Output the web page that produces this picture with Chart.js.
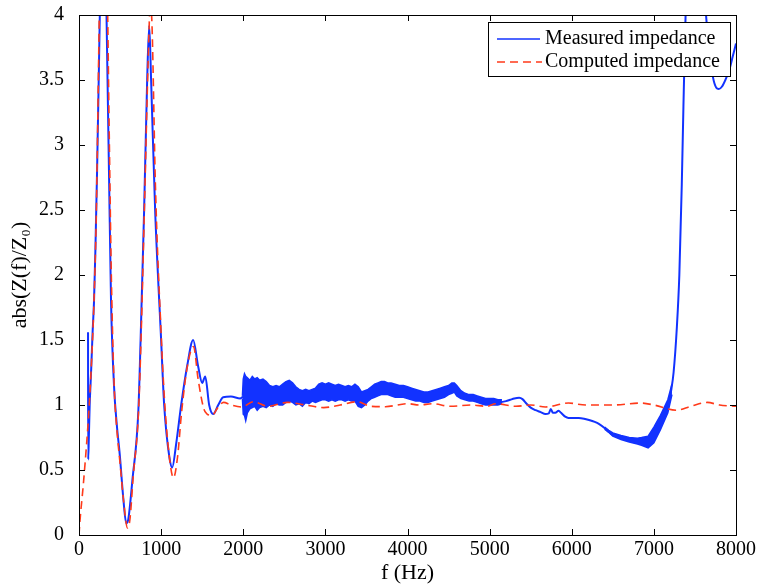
<!DOCTYPE html>
<html>
<head>
<meta charset="utf-8">
<script src="https://cdn.jsdelivr.net/npm/chart.js@4/dist/chart.umd.min.js"></script>
<style>
  html, body { margin: 0; padding: 0; background: #fff; }
  #wrap { width: 761px; height: 587px; }
</style>
</head>
<body>
<div id="wrap"><canvas id="impedanceChart" width="761" height="587"></canvas></div>
<script>
// f (Hz) ticks and abs(Z/Z0) ticks
const xTicks = [0, 1000, 2000, 3000, 4000, 5000, 6000, 7000, 8000];
const yTicks = [0, 0.5, 1, 1.5, 2, 2.5, 3, 3.5, 4];

// measured impedance (centre trace)
const measuredFreq = [110, 112, 120, 130, 140, 150, 165, 183, 200, 220, 240, 256, 280, 300, 320, 340, 365, 390, 427, 460, 496, 541, 575, 600, 650, 723, 750, 793, 830, 855, 878, 927, 1000, 1037, 1100, 1135, 1183, 1244, 1317, 1390, 1450, 1500, 1537, 1585, 1634, 1695, 1756, 1850, 1963, 1990,
  2100, 2300, 2500, 2700, 2900, 3100, 3300, 3440, 3600, 3750, 3950, 4200, 4400, 4560, 4700, 4900, 5100,
  5200, 5250, 5300, 5360, 5400, 5450, 5500, 5560, 5620, 5680, 5720, 5745, 5770, 5800, 5840, 5870, 5920, 5960, 6000, 6085, 6150, 6210, 6280, 6330, 6415, 6475, 6550, 6635, 6720, 6800, 6860, 6930, 7000, 7085, 7170, 7210, 7240, 7280, 7310, 7340, 7360, 7390, 7430, 7500, 7580, 7630, 7680, 7720, 7760, 7790, 7830, 7870, 7920, 7960, 8000];
const measuredAbs = [1.56, 0.58, 0.75, 1.0, 1.15, 1.3, 1.55, 1.8, 2.2, 2.8, 3.5, 4.1, 5.0, 5.3, 4.6, 3.8, 2.8, 1.8, 1.14, 0.85, 0.62, 0.27, 0.09, 0.12, 0.42, 0.96, 1.5, 2.5, 3.5, 3.92, 3.5, 2.5, 1.5, 1.0, 0.6, 0.52, 0.7, 1.0, 1.3, 1.5, 1.3, 1.17, 1.22, 1.0, 0.93, 1.0, 1.06, 1.065, 1.05, 1.06,
  1.08, 1.07, 1.09, 1.06, 1.07, 1.1, 1.09, 1.05, 1.1, 1.13, 1.1, 1.06, 1.09, 1.13, 1.06, 1.04, 1.02,
  1.03, 1.04, 1.05, 1.055, 1.045, 1.01, 0.98, 0.96, 0.945, 0.93, 0.935, 0.97, 0.94, 0.94, 0.955, 0.94, 0.91, 0.9, 0.9, 0.9, 0.895, 0.885, 0.87, 0.855, 0.815, 0.78, 0.755, 0.74, 0.73, 0.72, 0.715, 0.71, 0.78, 0.87, 0.985, 1.11, 1.25, 1.6, 2.0, 2.7, 3.3, 4.1, 4.8, 5.2, 4.8, 4.05, 3.7, 3.52, 3.44, 3.43, 3.45, 3.5, 3.58, 3.68, 3.78];

// noisy band of the measurement, 2000-5150 Hz (upper / lower edge)
const bandFreq = [1990, 2000, 2015, 2030, 2050, 2080, 2110, 2140, 2170, 2200, 2240, 2280, 2320, 2360, 2400, 2440, 2480, 2520, 2560, 2600, 2640, 2680, 2720, 2760, 2800, 2840, 2880, 2920, 2960, 3000, 3040, 3080, 3120, 3160, 3200, 3240, 3280, 3320, 3360, 3400, 3440, 3480, 3520, 3560, 3600, 3640, 3680, 3720, 3760, 3800, 3850, 3900, 3950, 4000, 4050, 4100, 4150, 4200, 4250, 4300, 4350, 4400, 4450, 4500, 4540, 4570, 4600, 4650, 4700, 4750, 4800, 4850, 4900, 4950, 5000, 5050, 5100, 5150];
const bandUpper = [1.07, 1.2, 1.24, 1.22, 1.21, 1.19, 1.22, 1.2, 1.21, 1.19, 1.2, 1.18, 1.15, 1.14, 1.15, 1.14, 1.16, 1.18, 1.19, 1.17, 1.14, 1.12, 1.11, 1.12, 1.11, 1.12, 1.13, 1.16, 1.17, 1.16, 1.17, 1.16, 1.15, 1.16, 1.15, 1.14, 1.15, 1.14, 1.16, 1.14, 1.1, 1.11, 1.12, 1.14, 1.16, 1.17, 1.18, 1.18, 1.17, 1.17, 1.16, 1.15, 1.15, 1.14, 1.13, 1.12, 1.11, 1.1, 1.1, 1.11, 1.12, 1.13, 1.14, 1.15, 1.17, 1.17, 1.15, 1.11, 1.09, 1.08, 1.08, 1.07, 1.06, 1.05, 1.05, 1.05, 1.04, 1.04];
const bandLower = [1.05, 0.93, 0.92, 0.88, 0.94, 0.97, 0.98, 0.99, 0.96, 0.98, 0.99, 0.98, 1.0, 0.99, 1.01, 1.0, 1.0, 1.02, 1.03, 1.02, 1.0, 1.01, 0.99, 1.02, 1.01, 1.03, 1.02, 1.03, 1.04, 1.04, 1.03, 1.04, 1.03, 1.04, 1.04, 1.03, 1.04, 1.03, 1.03, 0.99, 0.98, 1.0, 1.03, 1.05, 1.06, 1.07, 1.08, 1.08, 1.08, 1.07, 1.06, 1.06, 1.06, 1.05, 1.04, 1.03, 1.03, 1.02, 1.02, 1.03, 1.04, 1.05, 1.06, 1.08, 1.09, 1.1, 1.07, 1.05, 1.04, 1.03, 1.03, 1.02, 1.01, 1.0, 1.0, 1.0, 1.0, 1.01];

// thick part near the minimum, 6400-7220 Hz
const dipFreq = [6400, 6450, 6500, 6600, 6700, 6800, 6850, 6930, 7000, 7080, 7170, 7220];
const dipUpper = [0.83, 0.805, 0.785, 0.765, 0.75, 0.745, 0.75, 0.76, 0.83, 0.92, 1.04, 1.16];
const dipLower = [0.815, 0.79, 0.76, 0.735, 0.715, 0.7, 0.69, 0.67, 0.71, 0.81, 0.94, 1.08];

// computed impedance
const computedFreq = [0, 12, 50, 90, 120, 150, 180, 210, 240, 260, 290, 320, 345, 370, 395, 430, 460, 500, 545, 590, 620, 660, 725, 755, 800, 840, 870, 890, 930, 1000, 1040, 1100, 1150, 1200, 1250, 1320, 1395, 1450, 1520, 1560, 1620, 1690, 1760, 1850, 1980, 2125, 2300, 2540, 2760, 2980, 3180, 3390, 3550, 3730, 4000, 4150, 4300, 4520, 4770, 4970, 5070, 5320, 5500, 5680, 5960, 6170, 6500, 6850, 7000, 7270, 7450, 7650, 7800, 8000];
const computedAbs = [0, 0.11, 0.37, 0.68, 0.95, 1.3, 1.75, 2.45, 3.7, 4.6, 5.5, 5.2, 4.2, 3.0, 1.95, 1.12, 0.82, 0.55, 0.25, 0.055, 0.12, 0.45, 0.95, 1.5, 2.6, 3.6, 4.1, 3.9, 2.7, 1.55, 1.05, 0.6, 0.44, 0.6, 0.95, 1.3, 1.45, 1.2, 0.97, 0.93, 0.92, 0.98, 1.02, 1.0, 0.985, 1.025, 0.99, 1.02, 1.0, 0.98, 1.0, 1.025, 0.99, 0.987, 1.01, 1.0, 1.01, 0.99, 1.0, 0.99, 1.01, 0.99, 1.0, 0.985, 1.015, 1.0, 1.0, 1.015, 1.0, 0.96, 0.99, 1.02, 1.0, 0.99];

const legendLabels = ['Measured impedance', 'Computed impedance'];

const BLUE = '#1232ff';
const RED = '#ff3a1a';
const SERIF = '"Liberation Serif", "Times New Roman", serif';

function pts(xs, ys) {
  return xs.map((x, i) => ({ x: x, y: ys[i] }));
}

// box, inward ticks and the boxed legend
const matlabAxes = {
  id: 'matlabAxes',
  afterDatasetsDraw(chart) {
    const ctx = chart.ctx;
    const a = chart.chartArea;
    const xs = chart.scales.x;
    const ys = chart.scales.y;
    ctx.save();
    ctx.strokeStyle = '#000';
    ctx.lineWidth = 1;
    ctx.beginPath();
    xTicks.forEach(v => {
      const px = Math.round(xs.getPixelForValue(v)) + 0.5;
      ctx.moveTo(px, a.bottom); ctx.lineTo(px, a.bottom - 6);
      ctx.moveTo(px, a.top); ctx.lineTo(px, a.top + 6);
    });
    yTicks.forEach(v => {
      const py = Math.round(ys.getPixelForValue(v)) + 0.5;
      ctx.moveTo(a.left, py); ctx.lineTo(a.left + 6, py);
      ctx.moveTo(a.right, py); ctx.lineTo(a.right - 6, py);
    });
    ctx.stroke();
    ctx.strokeRect(Math.round(a.left) + 0.5, Math.round(a.top) + 0.5, Math.round(a.right - a.left), Math.round(a.bottom - a.top));

    // legend
    const lx = 488.5, ly = 22.5, lw = 242, lh = 54;
    ctx.fillStyle = '#fff';
    ctx.fillRect(lx, ly, lw, lh);
    ctx.strokeRect(lx, ly, lw, lh);
    ctx.lineWidth = 1.5;
    ctx.strokeStyle = BLUE;
    ctx.beginPath(); ctx.moveTo(497, 39); ctx.lineTo(540, 39); ctx.stroke();
    ctx.strokeStyle = RED;
    ctx.setLineDash([8, 5]);
    ctx.beginPath(); ctx.moveTo(497, 62); ctx.lineTo(542, 62); ctx.stroke();
    ctx.setLineDash([]);
    ctx.fillStyle = '#000';
    ctx.font = '20px ' + SERIF;
    ctx.textBaseline = 'middle';
    ctx.textAlign = 'left';
    ctx.fillText(legendLabels[0], 545, 39);
    ctx.fillText(legendLabels[1], 545, 62);
    ctx.restore();
  }
};

function noOverflow(s) {
  s.paddingTop = 0; s.paddingBottom = 0; s.paddingLeft = 0; s.paddingRight = 0;
}

new Chart(document.getElementById('impedanceChart'), {
  type: 'line',
  data: {
    datasets: [
      {
        label: legendLabels[1],
        data: pts(computedFreq, computedAbs),
        borderColor: RED,
        borderWidth: 1.6,
        borderDash: [8, 5],
        pointRadius: 0,
        cubicInterpolationMode: 'monotone',
        fill: false
      },
      {
        label: 'band upper',
        data: pts(bandFreq, bandUpper),
        borderColor: BLUE,
        backgroundColor: BLUE,
        borderWidth: 1.5,
        pointRadius: 0,
        fill: '+1'
      },
      {
        label: 'band lower',
        data: pts(bandFreq, bandLower),
        borderColor: BLUE,
        borderWidth: 1.5,
        pointRadius: 0,
        fill: false
      },
      {
        label: 'dip upper',
        data: pts(dipFreq, dipUpper),
        borderColor: BLUE,
        backgroundColor: BLUE,
        borderWidth: 1.5,
        pointRadius: 0,
        fill: '+1'
      },
      {
        label: 'dip lower',
        data: pts(dipFreq, dipLower),
        borderColor: BLUE,
        borderWidth: 1.5,
        pointRadius: 0,
        fill: false
      },
      {
        label: legendLabels[0],
        data: pts(measuredFreq, measuredAbs),
        borderColor: BLUE,
        borderWidth: 2,
        pointRadius: 0,
        cubicInterpolationMode: 'monotone',
        fill: false
      }
    ]
  },
  options: {
    responsive: false,
    animation: false,
    devicePixelRatio: 1,
    layout: { padding: { top: 15, right: 25, left: 0, bottom: 0 } },
    plugins: {
      legend: { display: false },
      tooltip: { enabled: false }
    },
    scales: {
      x: {
        type: 'linear',
        min: 0,
        max: 8000,
        afterFit: s => { s.height = 52; noOverflow(s); },
        afterBuildTicks: s => { s.ticks = xTicks.map(v => ({ value: v })); },
        grid: { display: false, drawTicks: false },
        border: { display: false },
        ticks: { color: '#000', font: { family: SERIF, size: 20 }, padding: 3, maxRotation: 0, callback: v => String(v) },
        title: { display: true, text: 'f (Hz)', color: '#000', font: { family: SERIF, size: 22 }, padding: { top: 0, bottom: 1 } }
      },
      y: {
        type: 'linear',
        min: 0,
        max: 4,
        afterFit: s => { s.width = 79; noOverflow(s); },
        afterBuildTicks: s => { s.ticks = yTicks.map(v => ({ value: v })); },
        grid: { display: false, drawTicks: false },
        border: { display: false },
        ticks: { color: '#000', font: { family: SERIF, size: 20 }, padding: 15, callback: v => String(v) },
        title: { display: true, text: 'abs(Z(f)/Z₀)', color: '#000', font: { family: SERIF, size: 22 }, padding: { top: 7, bottom: 0 } }
      }
    }
  },
  plugins: [matlabAxes]
});
</script>
</body>
</html>
